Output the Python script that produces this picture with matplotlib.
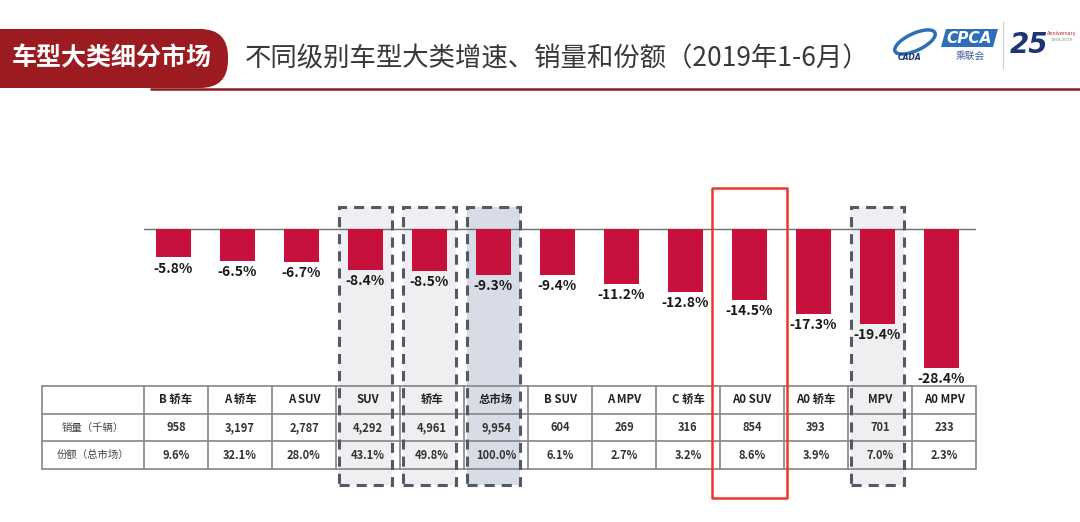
import matplotlib
matplotlib.use('Agg')
import matplotlib.pyplot as plt
import numpy as np
from matplotlib.patches import Rectangle, FancyBboxPatch, Polygon, Ellipse
from matplotlib.transforms import blended_transform_factory

plt.rcParams['font.family'] = ['Noto Sans CJK SC', 'DejaVu Sans']

# ---------------- data ----------------
categories = ['B 轿车', 'A 轿车', 'A SUV', 'SUV', '轿车', '总市场', 'B SUV',
              'A MPV', 'C 轿车', 'A0 SUV', 'A0 轿车', 'MPV', 'A0 MPV']
growth = [-5.8, -6.5, -6.7, -8.4, -8.5, -9.3, -9.4, -11.2, -12.8, -14.5, -17.3, -19.4, -28.4]
sales = [958, 3197, 2787, 4292, 4961, 9954, 604, 269, 316, 854, 393, 701, 233]
share = [9.6, 32.1, 28.0, 43.1, 49.8, 100.0, 6.1, 2.7, 3.2, 8.6, 3.9, 7.0, 2.3]
row_labels = ['销量（千辆）', '份额（总市场）']
title_tag = '车型大类细分市场'
title = '不同级别车型大类增速、销量和份额（2019年1-6月）'
gray_boxes = ['SUV', '轿车', 'MPV']
blue_boxes = ['总市场']
red_boxes = ['A0 SUV']

# ---------------- layout ----------------
W, H = 1080, 522
fig = plt.figure(figsize=(W / 100, H / 100), dpi=100)


def fx(px):
    return px / W


def fy(py):
    return 1 - py / H


bg = fig.add_axes([0, 0, 1, 1], zorder=0)
bg.set_xlim(0, W)
bg.set_ylim(H, 0)
bg.axis('off')

# header
pill = FancyBboxPatch((-40, 29), 268, 59, boxstyle='round,pad=0,rounding_size=28',
                      fc='#9c1b20', ec='none')
bg.add_patch(pill)
bg.plot([150, W], [88.5, 88.5], color='#8a1d1f', lw=1.8, solid_capstyle='butt')
bg.text(112, 58, title_tag, color='white', fontsize=18, fontweight='bold',
        ha='center', va='center')
bg.text(245, 59, title, color='#383838', fontsize=19, ha='left', va='center')

# logo (approximation)
bg.add_patch(Ellipse((915, 42), 44, 17, angle=-25, fc='none', ec='#2e6fba', lw=2.5))
bg.text(910, 58, 'CADA', fontsize=5.5, fontweight='bold', style='italic',
        color='#1d3475', ha='center', va='center', family='DejaVu Sans')
bg.add_patch(Polygon([(946, 29), (998, 29), (993, 47), (941, 47)], closed=True,
                     fc='#2e6fba', ec='none'))
bg.text(969, 38.5, 'CPCA', fontsize=11, fontweight='bold', style='italic',
        color='white', ha='center', va='center', family='DejaVu Sans')
bg.text(970, 56, '乘联会', fontsize=7, color='#3a5a95', ha='center', va='center')
bg.plot([1003, 1003], [22, 68], color='#cccccc', lw=0.8)
bg.text(1029, 45, '25', fontsize=20, fontweight='bold', style='italic',
        color='#1d3475', ha='center', va='center', family='DejaVu Sans')
bg.text(1062, 33, 'Anniversary', fontsize=3.5, color='#b2232a', ha='center',
        va='center', family='DejaVu Sans')
bg.text(1062, 40, '1994-2019', fontsize=3, color='#888888', ha='center',
        va='center', family='DejaVu Sans')

# ---------------- chart ----------------
n = len(categories)
ax = fig.add_axes([fx(144), fy(380), 832 / W, 200 / H], zorder=1)
ax.set_xlim(-0.5, n - 0.5)
ax.set_ylim(-(380 - 229) / 4.9, (229 - 180) / 4.9)
ax.patch.set_alpha(0)
ax.axis('off')

x = np.arange(n) - 0.04
ax.bar(x, growth, width=0.555, color='#c8103c', zorder=3)
ax.axhline(0, color='#707070', lw=1, zorder=2)
for xi, v in zip(x, growth):
    ax.annotate(f'{v:.1f}%', (xi, v), xytext=(0, -3), textcoords='offset points',
                ha='center', va='top', fontsize=10, fontweight='bold', color='#1a1a1a')

# ---------------- table ----------------
first_w = 102 / 64
tab = fig.add_axes([fx(42), fy(469), (976 - 42) / W, (469 - 386) / H], zorder=2)
xmin = -0.5 - first_w
tab.set_xlim(xmin, n - 0.5)
tab.set_ylim(3, 0)
tab.patch.set_alpha(0)
tab.axis('off')
lc = '#858585'
for r in range(4):
    tab.plot([xmin, n - 0.5], [r, r], color=lc, lw=1.2, clip_on=False,
             solid_capstyle='butt')
for xv in [xmin] + [k - 0.5 for k in range(n + 1)]:
    tab.plot([xv, xv], [0, 3], color=lc, lw=1.2, clip_on=False)

for i, c in enumerate(categories):
    tab.text(i, 0.5, c, ha='center', va='center', fontsize=8.2, fontweight='bold',
             color='#222222')
    tab.text(i, 1.5, f'{sales[i]:,}', ha='center', va='center', fontsize=8,
             fontweight='bold', color='#333333')
    tab.text(i, 2.5, f'{share[i]:.1f}%', ha='center', va='center', fontsize=8,
             fontweight='bold', color='#333333')
for r, lab in enumerate(row_labels):
    tab.text(xmin + first_w / 2, 1.5 + r, lab, ha='center', va='center',
             fontsize=7.5, color='#444444')

# ---------------- highlight boxes ----------------
trans = blended_transform_factory(ax.transData, fig.transFigure)
bw = 0.82
for names, fc in [(gray_boxes, '#efeff2'), (blue_boxes, '#d8dce6')]:
    for nm in names:
        xc = categories.index(nm) - 0.04
        fill = Rectangle((xc - bw / 2, fy(485)), bw, fy(207) - fy(485),
                         transform=trans, fc=fc, ec='none', zorder=0.5)
        fig.add_artist(fill)
        edge = Rectangle((xc - bw / 2, fy(485)), bw, fy(207) - fy(485),
                         transform=trans, fc='none', ec='#535a65', lw=2.2,
                         linestyle=(0, (3.3, 2.3)), zorder=3)
        fig.add_artist(edge)

rw = 1.16
for nm in red_boxes:
    xc = categories.index(nm) - 0.04
    red = Rectangle((xc - rw / 2, fy(498)), rw, fy(188) - fy(498),
                    transform=trans, fc='none', ec='#e8382f', lw=1.8,
                    joinstyle='round', zorder=3)
    fig.add_artist(red)

fig.savefig('out.png', dpi=100)
